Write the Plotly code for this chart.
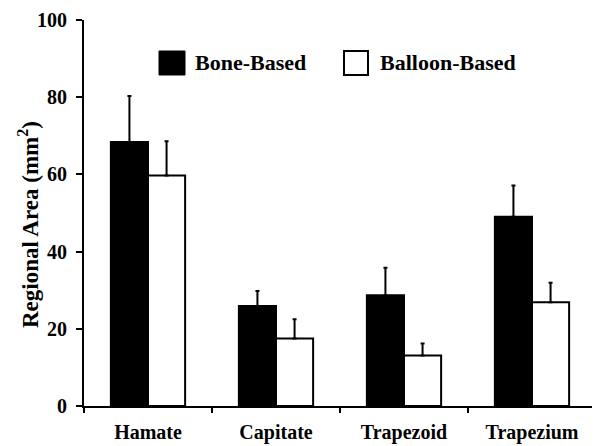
import plotly.graph_objects as go

categories = ["Hamate", "Capitate", "Trapezoid", "Trapezium"]
bone_values = [68.4, 25.9, 28.7, 49.0]
bone_errors = [11.9, 3.9, 7.1, 8.1]
balloon_values = [59.7, 17.5, 13.1, 26.9]
balloon_errors = [8.9, 5.0, 3.1, 5.0]
series_names = ["Bone-Based", "Balloon-Based"]
y_ticks = [0, 20, 40, 60, 80, 100]

FONT = "Liberation Serif"

fig = go.Figure()
fig.add_trace(go.Bar(
    x=categories, y=bone_values, name=series_names[0],
    marker=dict(color="black", line=dict(color="black", width=2)),
    error_y=dict(type="data", array=bone_errors, arrayminus=[0]*4, symmetric=False,
                 color="black", thickness=2, width=2),
    showlegend=False,
))
fig.add_trace(go.Bar(
    x=categories, y=balloon_values, name=series_names[1],
    marker=dict(color="white", line=dict(color="black", width=2)),
    error_y=dict(type="data", array=balloon_errors, arrayminus=[0]*4, symmetric=False,
                 color="black", thickness=2, width=2),
    showlegend=False,
))

# Legend drawn manually (large square swatches)
fig.add_shape(type="rect", xref="paper", yref="paper",
              x0=(159-84)/512, x1=(185-84)/512, y0=(406-75)/386, y1=(406-51)/386,
              fillcolor="black", line=dict(color="black", width=1))
fig.add_annotation(xref="paper", yref="paper", x=(193-84)/512, y=(406-63)/386,
                   text="<b>"+series_names[0]+"</b>", showarrow=False, xanchor="left", yanchor="middle",
                   font=dict(family=FONT, size=22, color="black"))
fig.add_shape(type="rect", xref="paper", yref="paper",
              x0=(344-84)/512, x1=(368-84)/512, y0=(406-75)/386, y1=(406-51)/386,
              fillcolor="white", line=dict(color="black", width=2))
fig.add_annotation(xref="paper", yref="paper", x=(378-84)/512, y=(406-63)/386,
                   text="<b>"+series_names[1]+"</b>", showarrow=False, xanchor="left", yanchor="middle",
                   font=dict(family=FONT, size=22, color="black"))

# Y axis title as rotated annotation
fig.add_annotation(xref="paper", yref="paper", x=(28-84)/512, y=(406-225)/386,
                   text="<b>Regional Area (mm<sup>2</sup>)</b>", showarrow=False, textangle=-90,
                   xanchor="center", yanchor="middle",
                   font=dict(family=FONT, size=23, color="black"))

# page body has an 8px default margin, so margins are shifted to compensate
fig.update_layout(
    width=600, height=446,
    margin=dict(l=76, r=12, t=12, b=48),
    paper_bgcolor="white", plot_bgcolor="white",
    barmode="group", bargap=0.42, bargroupgap=0,
    font=dict(family=FONT, color="black"),
    xaxis=dict(
        automargin=False,
        showline=True, linecolor="black", linewidth=2,
        ticks="outside", tickson="boundaries", ticklen=5, tickwidth=2, tickcolor="black",
        tickfont=dict(family=FONT, size=20, color="black"),
        tickvals=categories, ticktext=["<b>"+c+"</b>" for c in categories],
        ticklabelstandoff=7,
        showgrid=False, zeroline=False,
    ),
    yaxis=dict(
        automargin=False,
        range=[0, 100], tickvals=y_ticks, ticktext=["<b>%d</b>" % v for v in y_ticks],
        showline=True, linecolor="black", linewidth=2,
        ticks="outside", ticklen=6, tickwidth=2, tickcolor="black",
        tickfont=dict(family=FONT, size=20, color="black"),
        ticklabelstandoff=5,
        showgrid=False, zeroline=False,
    ),
)

fig.write_html("out.html")
